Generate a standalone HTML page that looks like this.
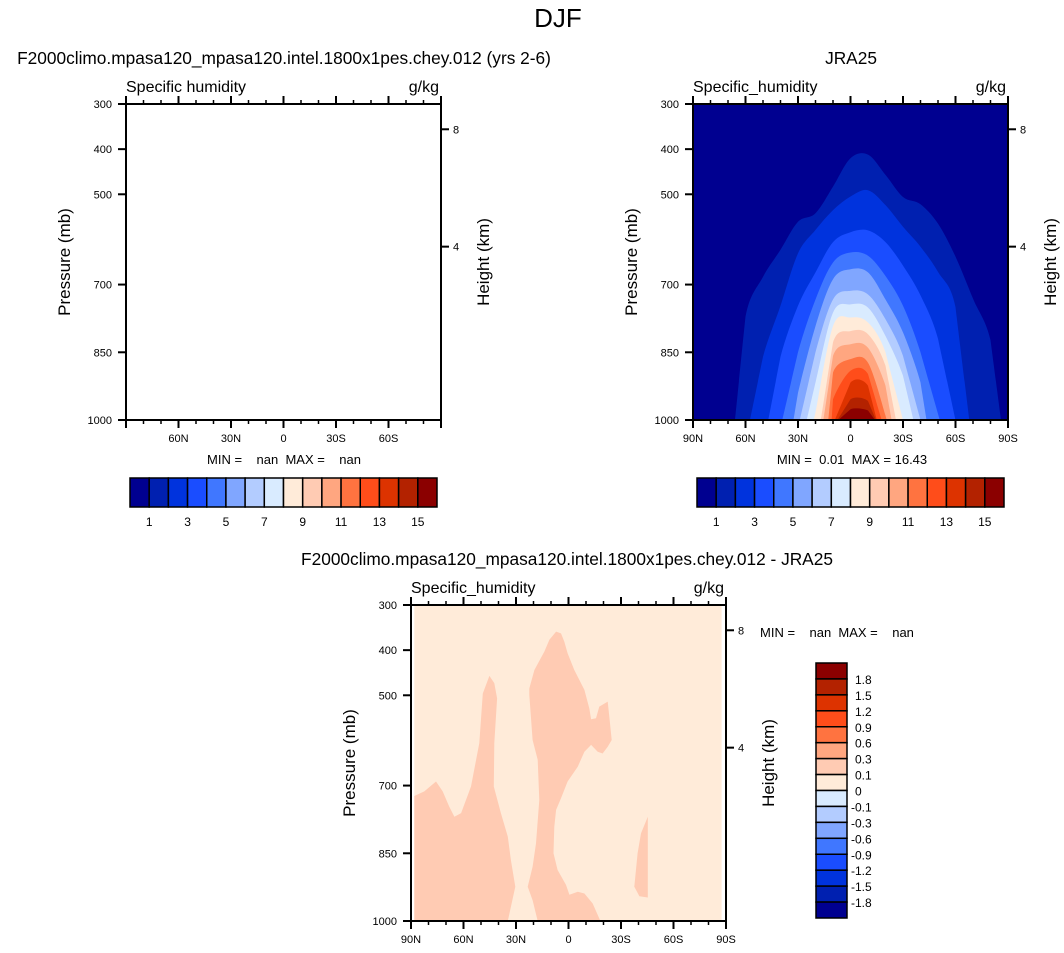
<!DOCTYPE html>
<html><head><meta charset="utf-8"><style>
body{margin:0;background:#fff}
svg{display:block;font-family:"Liberation Sans",sans-serif}
text{white-space:pre}
</style></head><body>
<svg id="c" width="1064" height="953" viewBox="0 0 1064 953" xmlns="http://www.w3.org/2000/svg">
<text x="558" y="27" font-size="26" text-anchor="middle">DJF</text>
<text x="284" y="64" font-size="17.3" text-anchor="middle">F2000climo.mpasa120_mpasa120.intel.1800x1pes.chey.012 (yrs 2-6)</text>
<text x="851" y="64" font-size="17.3" text-anchor="middle">JRA25</text>
<text x="567" y="565" font-size="17.3" text-anchor="middle">F2000climo.mpasa120_mpasa120.intel.1800x1pes.chey.012 - JRA25</text>
</svg>
<script>
// ---- data ----
const colors=["#000090","#0020b0","#0033dd","#1a4dff","#4077ff","#80a6ff","#b3ccff","#d9ebff","#ffebd9","#ffcbb3","#ffa680","#ff7340","#ff4d1a","#dd3300","#b32200","#8b0000"];
const hLabels=["1","3","5","7","9","11","13","15"];
const vLabels=["1.8","1.5","1.2","0.9","0.6","0.3","0.1","0","-0.1","-0.3","-0.6","-0.9","-1.2","-1.5","-1.8"];
const pTicks=[300,400,500,700,850,1000];
const latTicks=[90,60,30,0,-30,-60,-90];
const latNames=["90N","60N","30N","0","30S","60S","90S"];
const gridLats=[70,60,50,40,30,20,10,0,-10,-20,-30,-40,-50,-60,-70,-80];
const levelLeft=[66,57.4,47,39,32.6,29,25,21,17,15.5,12.7,10.8,9,7.5,7];
const levelRight=[-86,-67.9,-60,-51,-43.5,-40,-36,-30,-26,-23.5,-20.7,-17.8,-15,-14.5,-14];
const levelTops=[
[null,771,683,623,561,542,483,420,412,457,506,522,565,638,731,823],
[null,null,860,747,631,579,535,505,491,524,572,616,672,750,null,null],
[null,null,null,860,747,673,606,584,580,606,658,724,820,null,null,null],
[null,null,null,null,850,733,651,629,636,681,747,850,null,null,null,null],
[null,null,null,null,940,792,688,666,673,733,806,917,null,null,null,null],
[null,null,null,null,null,850,733,714,722,777,858,null,null,null,null,null],
[null,null,null,null,null,917,762,744,751,814,902,null,null,null,null,null],
[null,null,null,null,null,983,792,773,784,850,null,null,null,null,null,null],
[null,null,null,null,null,null,828,803,810,880,null,null,null,null,null,null],
[null,null,null,null,null,null,858,832,840,924,null,null,null,null,null,null],
[null,null,null,null,null,null,895,865,873,990,null,null,null,null,null,null],
[null,null,null,null,null,null,954,891,898,null,null,null,null,null,null,null],
[null,null,null,null,null,null,null,917,924,null,null,null,null,null,null,null],
[null,null,null,null,null,null,null,954,958,null,null,null,null,null,null,null],
[null,null,null,null,null,null,null,976,979,null,null,null,null,null,null,null]];
const diffBgLats=[88.1,-87.5];
const patchA=[[88.1,1000],[88.1,723],[82.4,713],[75.7,691],[71.9,713],[68.1,747],[65.2,769],[61.4,761],[55.7,702],[51,606],[49,496],[45.2,457],[42.4,473],[40.8,507],[42.4,606],[42.7,702],[38.6,761],[34.7,813],[32.9,865],[30.4,924],[34.7,1000]];
const patchB=[[23.3,924],[20.5,880],[18.6,828],[16.7,732],[17.6,643],[20.5,599],[22.4,499],[22.4,485],[19.5,444],[13.8,403],[10.9,377],[7.1,359],[4.3,363],[2.4,381],[0.5,407],[-3.3,444],[-9.1,488],[-11.9,529],[-12.9,553],[-15.7,551],[-17.6,525],[-22.4,514],[-23.3,547],[-24.7,599],[-22.4,614],[-19.5,629],[-16.7,625],[-12.9,610],[-9.1,625],[-5.3,658],[0.5,691],[4.3,728],[7.1,754],[8.1,791],[8.6,850],[6.2,887],[1.4,920],[-0.5,942],[-5.3,935],[-9.1,939],[-13.8,961],[-18.2,1000],[17.6,1000],[20.5,954]];
const patchC=[[-37.6,924],[-39.5,850],[-41.4,806],[-45.3,769],[-45.3,948],[-40.5,945]];
// ---- drawing ----
const svg=document.getElementById('c');
const NS="http://www.w3.org/2000/svg";
function mk(tag,attrs,parent){const e=document.createElementNS(NS,tag);for(const k in attrs)e.setAttribute(k,attrs[k]);(parent||svg).appendChild(e);return e;}
function txt(x,y,s,size,anchor,parent){const t=mk('text',{x:x,y:y,'font-size':size,'text-anchor':anchor||'middle'},parent);t.textContent=s;return t;}
function axes(x0,y0){const W=315,H=316;return{x:lat=>x0+(90-lat)/180*W,y:p=>y0+(p-300)/700*H,x0:x0,y0:y0,W:W,H:H};}
function poly(a,pts,fill,name){const p=mk('polygon',{points:pts.map(q=>a.x(q[0]).toFixed(1)+','+a.y(q[1]).toFixed(1)).join(' '),fill:fill});

return p;}
function smoothPath(a,pts,fill,name){
 const P=pts.map(q=>[a.x(q[0]),a.y(q[1])]);
 let d='M'+P[0][0].toFixed(1)+','+P[0][1].toFixed(1);
 for(let i=0;i<P.length-1;i++){
  const p0=P[Math.max(0,i-1)],p1=P[i],p2=P[i+1],p3=P[Math.min(P.length-1,i+2)];
  const t=(i===0||i===P.length-2)?0:1/6;
  const c1=[p1[0]+(p2[0]-p0[0])*t,Math.min(a.y(1000),p1[1]+(p2[1]-p0[1])*t)];
  const c2=[p2[0]-(p3[0]-p1[0])*t,Math.min(a.y(1000),p2[1]-(p3[1]-p1[1])*t)];
  d+=' C'+c1[0].toFixed(1)+','+c1[1].toFixed(1)+' '+c2[0].toFixed(1)+','+c2[1].toFixed(1)+' '+p2[0].toFixed(1)+','+p2[1].toFixed(1);}
 d+='Z';
 const p=mk('path',{d:d,fill:fill});
 
 return p;}
function frame(a,name,varname,showEnds){
 const g=mk('g',{stroke:'#000','stroke-width':2});
 
 
 mk('rect',{x:a.x0,y:a.y0,width:a.W,height:a.H,fill:'none'},g);
 for(let l=90;l>=-90;l-=10){const x=a.x(l);const maj=l%30===0;const L=maj?8:4;
  mk('line',{x1:x,x2:x,y1:a.y0,y2:a.y0-L,'stroke-width':maj?2:1.5},g);
  mk('line',{x1:x,x2:x,y1:a.y0+a.H,y2:a.y0+a.H+L,'stroke-width':maj?2:1.5},g);}
 pTicks.forEach(p=>{mk('line',{x1:a.x0,x2:a.x0-8,y1:a.y(p),y2:a.y(p)},g);
  const t=txt(a.x0-14,a.y(p)+4,String(p),11,'end');});
 [[356,'8'],[616,'4']].forEach(h=>{const y=a.y(h[0]);mk('line',{x1:a.x0+a.W,x2:a.x0+a.W+8,y1:y,y2:y},g);txt(a.x0+a.W+12,y+4,h[1],11,'start');});
 latTicks.forEach((l,i)=>{if(!showEnds&&(i===0||i===6))return;const t=txt(a.x(l),a.y0+a.H+22,latNames[i],11);});
 const v=txt(a.x0,a.y0-12,varname,16,'start');
 const u=txt(a.x0+a.W-2,a.y0-12,'g/kg',16,'end');
 const py=txt(0,0,'Pressure (mb)',17);py.setAttribute('transform','translate('+(a.x0-56)+','+(a.y0+a.H/2)+') rotate(-90)');
 
 const hy=txt(0,0,'Height (km)',17);hy.setAttribute('transform','translate('+(a.x0+a.W+48)+','+(a.y0+a.H/2)+') rotate(-90)');
 
}
function hbar(x0,name){const w=307/16;
 for(let i=0;i<16;i++){const r=mk('rect',{x:x0+i*w,y:478,width:w,height:29,fill:colors[i],stroke:'#000','stroke-width':1.5});
  }
 hLabels.forEach((s,i)=>{const t=txt(x0+(2*i+1)*w,526,s,12);});}
// top-left (empty)
const A1=axes(126,104);
frame(A1,'left-panel','Specific humidity',false);
const m1=txt(284,464,'MIN =    nan  MAX =    nan',13);
hbar(130,'left-colorbar');
// top-right
const A2=axes(693,104);
poly(A2,[[90,300],[-90,300],[-90,1000],[90,1000]],colors[0],'contour-background');
levelTops.forEach((tops,k)=>{const pts=[[levelLeft[k],1000]];
 gridLats.forEach((l,j)=>{if(tops[j]!==null&&l<levelLeft[k]&&l>levelRight[k])pts.push([l,tops[j]]);});
 pts.push([levelRight[k],1000]);smoothPath(A2,pts,colors[k+1],'contour-level-'+(k+1));});
frame(A2,'right-panel','Specific_humidity',true);
const m2=txt(852,464,'MIN =  0.01  MAX = 16.43',13);
hbar(697,'right-colorbar');
// bottom diff
const A3=axes(411,605);
poly(A3,[[diffBgLats[0],300],[diffBgLats[1],300],[diffBgLats[1],1000],[diffBgLats[0],1000]],colors[8],'diff-background');
poly(A3,patchA,colors[9],'diff-patch-west');
poly(A3,patchB,colors[9],'diff-patch-center');
poly(A3,patchC,colors[9],'diff-patch-east');
frame(A3,'diff-panel','Specific_humidity',true);
const m3=txt(760,637,'MIN =    nan  MAX =    nan',13,'start');
const bh=255/16;
for(let i=0;i<16;i++){const r=mk('rect',{x:816,y:663+i*bh,width:31,height:bh,fill:colors[15-i],stroke:'#000','stroke-width':1.5});
 }
vLabels.forEach((s,i)=>{const t=txt(s[0]==='-'?851:855,663+(i+1)*bh+5,s,12,'start');});
</script>
</body></html>
